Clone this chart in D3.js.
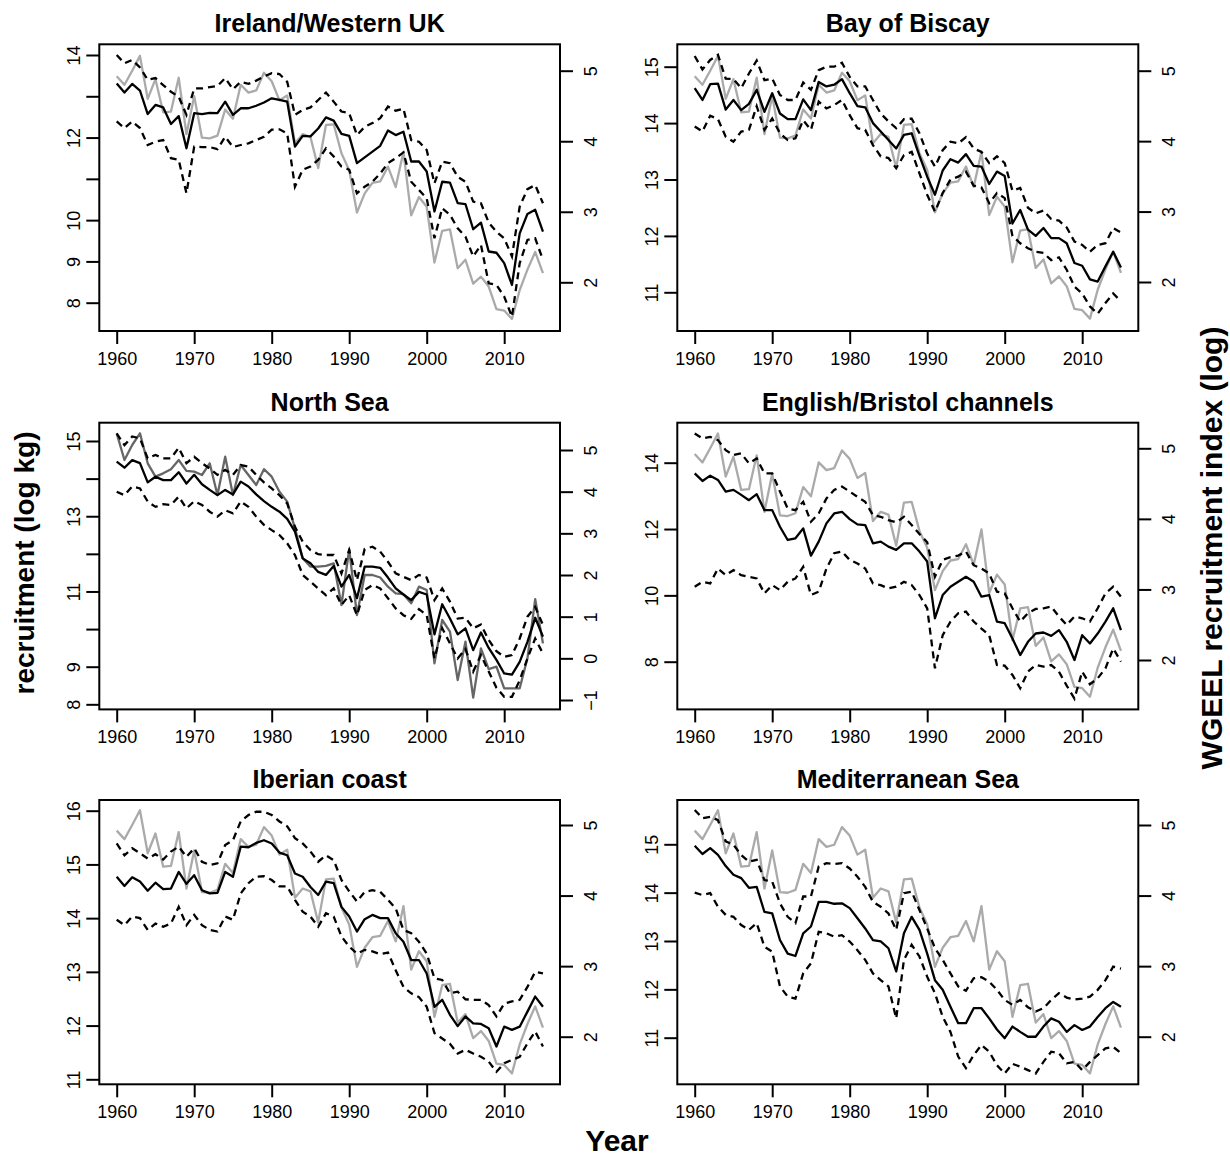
<!DOCTYPE html>
<html>
<head>
<meta charset="utf-8">
<script src="https://cdn.jsdelivr.net/npm/d3@7"></script>
<style>
  body { margin: 0; background: #fff; }
  svg text { font-family: "Liberation Sans", Arial, Helvetica, sans-serif; fill: #000; }
</style>
</head>
<body>
<script>
// years and x ticks
const years = d3.range(1960, 2016);
const xTicks = [1960, 1970, 1980, 1990, 2000, 2010];

// WGEEL "Elsewhere" recruitment index (log), the grey line in five panels
const wgeelIndex = [
  4.92, 4.80, 5.00, 5.21, 4.60, 4.88, 4.41, 4.42, 4.90, 4.10,
  4.64, 4.05, 4.04, 4.08, 4.45, 4.32, 4.80, 4.69, 4.72, 4.97,
  4.85, 4.58, 4.65, 3.97, 4.10, 4.06, 3.62, 4.23, 4.24, 3.83,
  3.59, 2.99, 3.26, 3.41, 3.43, 3.64, 3.35, 3.85, 2.95, 3.21,
  3.07, 2.28, 2.73, 2.75, 2.20, 2.32, 1.98, 2.08, 1.94, 1.62,
  1.60, 1.48, 1.89, 2.18, 2.43, 2.13
];
// WGEEL North Sea index (log)
const northSeaIndex = [
  5.40, 4.76, 5.12, 5.40, 4.68, 4.36, 4.44, 4.54, 4.76, 4.50,
  4.48, 4.40, 4.68, 3.92, 4.84, 3.92, 4.64, 4.40, 4.16, 4.54,
  4.36, 4.00, 3.76, 3.12, 2.40, 2.20, 2.20, 2.22, 2.28, 1.28,
  2.62, 1.04, 2.00, 2.00, 1.94, 1.72, 1.56, 1.54, 1.32, 1.72,
  1.64, -0.12, 0.92, 0.64, -0.52, 0.40, -0.94, 0.24, -0.26, -0.20,
  -0.72, -0.72, -0.72, 0.00, 1.42, 0.36
];

// recruitment estimates (log kg) with upper / lower bounds
const irelandEst = [
  13.31, 13.09, 13.30, 13.14, 12.57, 12.79, 12.73, 12.33, 12.52, 11.74,
  12.59, 12.57, 12.60, 12.59, 12.87, 12.55, 12.71, 12.71, 12.77, 12.85,
  12.95, 12.91, 12.87, 11.78, 12.04, 12.03, 12.22, 12.49, 12.41, 12.09,
  12.04, 11.38, 11.52, 11.66, 11.80, 12.17, 12.06, 12.14, 11.42, 11.42,
  11.18, 10.21, 10.93, 10.91, 10.41, 10.39, 9.78, 9.94, 9.24, 9.21,
  8.96, 8.43, 9.68, 10.15, 10.25, 9.72
];
const irelandUpper = [
  14.00, 13.80, 13.88, 13.70, 13.40, 13.44, 13.27, 13.11, 12.99, 12.55,
  13.19, 13.19, 13.22, 13.25, 13.44, 13.17, 13.35, 13.30, 13.38, 13.48,
  13.56, 13.54, 13.35, 12.55, 12.67, 12.73, 12.91, 13.09, 12.87, 12.63,
  12.59, 12.06, 12.26, 12.35, 12.47, 12.75, 12.65, 12.70, 11.94, 11.90,
  11.70, 10.89, 11.42, 11.38, 11.05, 10.93, 10.45, 10.41, 9.94, 9.72,
  9.56, 9.12, 10.33, 10.75, 10.85, 10.41
];
const irelandLower = [
  12.39, 12.23, 12.39, 12.23, 11.82, 11.90, 11.94, 11.50, 11.46, 10.65,
  11.78, 11.77, 11.77, 11.72, 12.02, 11.77, 11.82, 11.86, 11.94, 12.02,
  12.19, 12.20, 12.10, 10.81, 11.22, 11.30, 11.46, 11.74, 11.54, 11.30,
  11.22, 10.65, 10.81, 10.93, 11.13, 11.38, 11.50, 11.64, 10.93, 10.73,
  10.53, 9.56, 10.29, 10.13, 9.80, 9.60, 9.12, 9.40, 8.47, 8.43,
  8.15, 7.66, 8.96, 9.52, 9.56, 9.04
];

const biscayEst = [
  14.62, 14.41, 14.69, 14.70, 14.24, 14.41, 14.23, 14.34, 14.59, 14.20,
  14.53, 14.17, 14.07, 14.07, 14.42, 14.23, 14.73, 14.65, 14.68, 14.78,
  14.53, 14.30, 14.28, 14.00, 13.85, 13.70, 13.55, 13.79, 13.82, 13.42,
  13.05, 12.73, 13.16, 13.36, 13.30, 13.45, 13.24, 13.23, 12.92, 13.14,
  13.06, 12.22, 12.46, 12.11, 12.00, 12.14, 11.96, 11.96, 11.87, 11.52,
  11.47, 11.23, 11.19, 11.46, 11.72, 11.44
];
const biscayUpper = [
  15.19, 14.95, 15.12, 15.21, 14.79, 14.78, 14.62, 14.88, 15.11, 14.76,
  14.79, 14.50, 14.41, 14.41, 14.72, 14.59, 14.94, 15.00, 15.00, 15.07,
  14.82, 14.65, 14.65, 14.41, 14.17, 14.03, 13.91, 14.07, 14.08, 13.82,
  13.46, 13.23, 13.52, 13.67, 13.64, 13.75, 13.55, 13.49, 13.29, 13.41,
  13.29, 12.80, 12.85, 12.50, 12.40, 12.45, 12.30, 12.27, 12.15, 11.90,
  11.84, 11.72, 11.84, 11.87, 12.14, 12.06
];
const biscayLower = [
  13.94, 13.85, 14.13, 14.07, 13.76, 13.67, 13.85, 13.88, 14.30, 13.88,
  14.08, 13.82, 13.70, 13.73, 14.05, 13.88, 14.38, 14.26, 14.32, 14.41,
  14.14, 13.91, 13.88, 13.61, 13.41, 13.38, 13.20, 13.43, 13.49, 13.11,
  12.73, 12.43, 12.76, 13.00, 13.05, 13.14, 12.89, 12.86, 12.58, 12.76,
  12.67, 12.00, 11.87, 11.78, 11.72, 11.70, 11.57, 11.62, 11.40, 11.10,
  10.98, 10.75, 10.62, 10.81, 10.98, 10.84
];

const northSeaEst = [
  14.45, 14.29, 14.49, 14.41, 13.90, 14.05, 13.96, 13.96, 14.17, 13.87,
  14.10, 13.85, 13.70, 13.56, 13.70, 13.58, 13.92, 13.79, 13.58, 13.40,
  13.25, 13.12, 12.93, 12.59, 11.88, 11.75, 11.52, 11.44, 11.68, 11.13,
  11.44, 10.82, 11.66, 11.66, 11.63, 11.37, 11.08, 10.92, 10.77, 10.99,
  10.92, 9.86, 10.66, 10.28, 9.86, 10.02, 9.44, 9.91, 9.50, 9.18,
  8.82, 8.79, 9.13, 9.66, 10.30, 9.80
];
const northSeaUpper = [
  15.20, 14.89, 15.12, 15.07, 14.54, 14.63, 14.54, 14.54, 14.82, 14.41,
  14.58, 14.41, 14.27, 14.10, 14.23, 14.10, 14.36, 14.32, 14.10, 13.90,
  13.74, 13.56, 13.34, 12.72, 12.32, 12.10, 11.99, 11.97, 11.97, 11.48,
  12.10, 11.30, 12.13, 12.19, 12.06, 11.79, 11.48, 11.39, 11.30, 11.44,
  11.37, 10.77, 11.08, 10.73, 10.28, 10.30, 10.02, 10.12, 9.71, 9.41,
  9.26, 9.31, 9.75, 10.33, 10.59, 10.11
];
const northSeaLower = [
  13.65, 13.56, 13.79, 13.74, 13.39, 13.25, 13.32, 13.30, 13.52, 13.21,
  13.40, 13.30, 13.12, 12.99, 13.16, 13.08, 13.39, 13.25, 12.99, 12.77,
  12.63, 12.50, 12.28, 11.97, 11.44, 11.26, 11.08, 10.90, 11.08, 10.64,
  10.90, 10.37, 11.04, 11.17, 11.08, 10.82, 10.55, 10.37, 10.27, 10.53,
  10.37, 9.22, 10.02, 9.62, 9.22, 9.47, 8.87, 9.31, 8.87, 8.44,
  8.20, 8.20, 8.64, 9.22, 9.75, 9.35
];

const channelsEst = [
  13.68, 13.45, 13.61, 13.48, 13.13, 13.18, 13.03, 12.87, 13.05, 12.57,
  12.57, 12.07, 11.67, 11.72, 12.02, 11.20, 11.62, 12.17, 12.47, 12.52,
  12.30, 12.14, 12.12, 11.57, 11.62, 11.47, 11.37, 11.57, 11.57, 11.32,
  11.02, 9.31, 10.01, 10.26, 10.41, 10.56, 10.41, 9.96, 10.01, 9.21,
  9.16, 8.70, 8.20, 8.60, 8.85, 8.88, 8.78, 8.95, 8.60, 8.05,
  8.80, 8.55, 8.85, 9.21, 9.61, 8.95
];
const channelsUpper = [
  14.88, 14.73, 14.78, 14.68, 14.38, 14.23, 14.28, 13.98, 14.13, 13.68,
  13.68, 13.13, 12.62, 12.57, 12.82, 12.22, 12.47, 12.92, 13.18, 13.28,
  13.13, 12.97, 12.82, 12.42, 12.37, 12.27, 12.20, 12.37, 12.12, 11.85,
  11.60, 10.56, 11.07, 11.15, 11.20, 11.32, 10.91, 10.81, 10.66, 10.11,
  10.06, 9.61, 9.21, 9.46, 9.59, 9.61, 9.66, 9.36, 9.11, 9.36,
  9.31, 9.21, 9.61, 10.06, 10.26, 9.96
];
const channelsLower = [
  10.26, 10.41, 10.36, 10.81, 10.61, 10.76, 10.61, 10.56, 10.51, 10.06,
  10.31, 10.16, 10.41, 10.51, 10.86, 10.01, 10.11, 10.81, 11.27, 11.32,
  11.07, 10.96, 10.81, 10.36, 10.31, 10.21, 10.26, 10.41, 10.31, 10.01,
  9.61, 7.80, 8.80, 9.21, 9.46, 9.51, 9.21, 9.00, 8.80, 7.90,
  7.88, 7.60, 7.20, 7.70, 7.90, 7.85, 7.90, 7.70, 7.28, 6.89,
  7.70, 7.32, 7.50, 7.80, 8.40, 8.00
];

const iberianEst = [
  14.77, 14.60, 14.76, 14.68, 14.51, 14.66, 14.54, 14.55, 14.86, 14.64,
  14.80, 14.52, 14.46, 14.47, 14.86, 14.77, 15.33, 15.32, 15.40, 15.45,
  15.39, 15.22, 15.17, 14.83, 14.77, 14.58, 14.43, 14.68, 14.65, 14.21,
  14.03, 13.75, 13.98, 14.06, 14.00, 14.00, 13.72, 13.56, 13.22, 13.22,
  12.97, 12.35, 12.48, 12.20, 11.99, 12.17, 12.04, 12.03, 11.95, 11.61,
  11.98, 11.92, 11.98, 12.26, 12.54, 12.35
];
const iberianUpper = [
  15.39, 15.17, 15.30, 15.21, 15.11, 15.19, 15.09, 15.24, 15.33, 15.14,
  15.30, 15.05, 14.99, 15.02, 15.36, 15.45, 15.80, 15.92, 15.98, 15.98,
  15.92, 15.80, 15.71, 15.49, 15.39, 15.24, 15.05, 15.17, 15.08, 14.71,
  14.50, 14.31, 14.49, 14.52, 14.49, 14.34, 14.18, 13.78, 13.72, 13.56,
  13.34, 12.88, 12.85, 12.60, 12.63, 12.49, 12.48, 12.48, 12.38, 12.17,
  12.41, 12.45, 12.48, 12.72, 13.00, 12.97
];
const iberianLower = [
  13.97, 13.87, 14.03, 14.00, 13.78, 13.90, 13.84, 13.90, 14.21, 13.87,
  14.06, 13.87, 13.78, 13.75, 14.03, 13.97, 14.46, 14.65, 14.77, 14.78,
  14.71, 14.59, 14.59, 14.34, 14.12, 14.03, 13.84, 14.09, 14.03, 13.66,
  13.47, 13.34, 13.41, 13.38, 13.33, 13.36, 13.03, 12.72, 12.60, 12.53,
  12.35, 11.86, 11.76, 11.66, 11.48, 11.55, 11.48, 11.42, 11.33, 11.14,
  11.30, 11.36, 11.42, 11.67, 11.89, 11.61
];

const medEst = [
  14.97, 14.80, 14.92, 14.78, 14.55, 14.37, 14.30, 14.10, 14.12, 13.60,
  13.57, 13.02, 12.74, 12.69, 13.16, 13.30, 13.81, 13.81, 13.77, 13.78,
  13.68, 13.47, 13.26, 13.02, 12.99, 12.85, 12.37, 13.16, 13.50, 13.23,
  12.74, 12.19, 11.99, 11.64, 11.30, 11.30, 11.61, 11.61, 11.40, 11.17,
  10.99, 11.23, 11.12, 11.02, 11.02, 11.23, 11.40, 11.33, 11.12, 11.26,
  11.16, 11.23, 11.43, 11.61, 11.74, 11.64
];
const medUpper = [
  15.71, 15.54, 15.57, 15.50, 15.06, 14.99, 14.78, 14.64, 14.68, 14.26,
  14.23, 13.78, 13.50, 13.37, 13.92, 13.92, 14.54, 14.61, 14.59, 14.61,
  14.50, 14.33, 14.12, 13.81, 13.71, 13.57, 13.23, 13.99, 14.02, 13.64,
  13.26, 12.85, 12.61, 12.33, 12.06, 11.97, 12.23, 12.25, 12.16, 11.99,
  11.78, 11.68, 11.78, 11.63, 11.54, 11.61, 11.78, 11.92, 11.83, 11.79,
  11.81, 11.85, 11.99, 12.19, 12.47, 12.43
];
const medLower = [
  14.00, 13.95, 13.99, 13.71, 13.54, 13.50, 13.33, 13.23, 13.37, 12.88,
  12.78, 12.06, 11.85, 11.81, 12.33, 12.54, 13.19, 13.16, 13.09, 13.12,
  12.99, 12.81, 12.61, 12.33, 12.19, 12.06, 11.40, 12.61, 12.92, 12.68,
  12.26, 11.92, 11.43, 11.12, 10.61, 10.37, 10.64, 10.85, 10.71, 10.43,
  10.26, 10.46, 10.40, 10.33, 10.26, 10.50, 10.71, 10.68, 10.47, 10.50,
  10.33, 10.50, 10.64, 10.78, 10.81, 10.68
];

const panelTitles = ["Ireland/Western UK", "Bay of Biscay", "North Sea",
  "English/Bristol channels", "Iberian coast", "Mediterranean Sea"];

// page layout
const w = 1230;
const h = 1161;
const cols = [[99.3, 560], [677.3, 1138.3]];
const rows = [[44.3, 331], [422.7, 709.4], [800, 1084.3]];
const x1960 = [116.7, 694.7];
const decade = 77.5;
const grey = "#aaaaaa";

const panels = [
  { title: panelTitles[0], est: irelandEst, hi: irelandUpper, lo: irelandLower, idx: wgeelIndex, idxColor: grey,
    r: 0, c: 0, yl: [[14, 8], [55, 302.7]], yr: [[5, 2], [70.7, 282.3]],
    lTicks: d3.range(8, 15), lLabels: [8, 9, 10, 12, 14], rTicks: [2, 3, 4, 5] },
  { title: panelTitles[1], est: biscayEst, hi: biscayUpper, lo: biscayLower, idx: wgeelIndex, idxColor: grey,
    r: 0, c: 1, yl: [[15, 11], [66.7, 292.3]], yr: [[5, 2], [70.7, 282]],
    lTicks: d3.range(11, 16), lLabels: d3.range(11, 16), rTicks: [2, 3, 4, 5] },
  { title: panelTitles[2], est: northSeaEst, hi: northSeaUpper, lo: northSeaLower, idx: northSeaIndex, idxColor: "#666666",
    r: 1, c: 0, yl: [[15, 9], [441, 666.7]], yr: [[5, -1], [450, 700]],
    lTicks: d3.range(8, 16), lLabels: [8, 9, 11, 13, 15], rTicks: d3.range(-1, 6) },
  { title: panelTitles[3], est: channelsEst, hi: channelsUpper, lo: channelsLower, idx: wgeelIndex, idxColor: grey,
    r: 1, c: 1, yl: [[14, 8], [462.7, 661.7]], yr: [[5, 2], [448.3, 660]],
    lTicks: [8, 10, 12, 14], lLabels: [8, 10, 12, 14], rTicks: [2, 3, 4, 5] },
  { title: panelTitles[4], est: iberianEst, hi: iberianUpper, lo: iberianLower, idx: wgeelIndex, idxColor: grey,
    r: 2, c: 0, yl: [[16, 11], [810.7, 1079.3]], yr: [[5, 2], [825, 1036.7]],
    lTicks: d3.range(11, 17), lLabels: d3.range(11, 17), rTicks: [2, 3, 4, 5] },
  { title: panelTitles[5], est: medEst, hi: medUpper, lo: medLower, idx: wgeelIndex, idxColor: grey,
    r: 2, c: 1, yl: [[15, 11], [844.3, 1037.7]], yr: [[5, 2], [825, 1036.7]],
    lTicks: d3.range(11, 16), lLabels: d3.range(11, 16), rTicks: [2, 3, 4, 5] }
];

const svg = d3.select("body").append("svg").attr("width", w).attr("height", h);

function styleAxis(g) {
  g.select(".domain").remove();
  g.selectAll(".tick line").attr("stroke", "#000").attr("stroke-width", 2);
  g.selectAll("text").attr("font-size", 18).attr("fill", "#000");
  g.attr("font-family", null).attr("font-size", null);
}

panels.forEach(function (p) {
  const [bx0, bx1] = cols[p.c];
  const [by0, by1] = rows[p.r];

  const xScale = d3.scaleLinear().domain([1960, 2010]).range([x1960[p.c], x1960[p.c] + 5 * decade]);
  const yLeft = d3.scaleLinear().domain(p.yl[0]).range(p.yl[1]);
  const yRight = d3.scaleLinear().domain(p.yr[0]).range(p.yr[1]);

  const g = svg.append("g");

  // grey index line on the right axis
  const idxLine = d3.line().x((d, i) => xScale(years[i])).y(d => yRight(d));
  g.append("path").datum(p.idx).attr("d", idxLine)
    .attr("fill", "none").attr("stroke", p.idxColor).attr("stroke-width", 2.3)
    .attr("stroke-linejoin", "round");

  // estimate and bounds on the left axis
  const line = d3.line().x((d, i) => xScale(years[i])).y(d => yLeft(d));
  [p.hi, p.lo].forEach(function (s) {
    g.append("path").datum(s).attr("d", line)
      .attr("fill", "none").attr("stroke", "#000").attr("stroke-width", 2.3)
      .attr("stroke-dasharray", "7,5");
  });
  g.append("path").datum(p.est).attr("d", line)
    .attr("fill", "none").attr("stroke", "#000").attr("stroke-width", 2.3)
    .attr("stroke-linejoin", "round");

  // box
  g.append("rect").attr("x", bx0).attr("y", by0)
    .attr("width", bx1 - bx0).attr("height", by1 - by0)
    .attr("fill", "none").attr("stroke", "#000").attr("stroke-width", 2);

  // left axis
  const la = g.append("g").attr("transform", `translate(${bx0},0)`)
    .call(d3.axisLeft(yLeft).tickValues(p.lTicks).tickSize(13)
      .tickFormat(d => (p.lLabels.includes(d) ? d : "")));
  styleAxis(la);
  la.selectAll("text").attr("x", 0).attr("dy", null)
    .attr("text-anchor", "middle").attr("transform", "translate(-19.5,0) rotate(-90)");

  // right axis
  const ra = g.append("g").attr("transform", `translate(${bx1},0)`)
    .call(d3.axisRight(yRight).tickValues(p.rTicks).tickSize(13).tickFormat(d3.format("d")));
  styleAxis(ra);
  ra.selectAll("text").attr("x", 0).attr("dy", null)
    .attr("text-anchor", "middle").attr("transform", "translate(36.5,0) rotate(-90)");

  // bottom axis
  const ba = g.append("g").attr("transform", `translate(0,${by1})`)
    .call(d3.axisBottom(xScale).tickValues(xTicks).tickSize(13).tickFormat(d3.format("d")));
  styleAxis(ba);
  ba.selectAll("text").attr("y", 34).attr("dy", null);

  // title
  g.append("text").attr("x", (bx0 + bx1) / 2).attr("y", by0 - 12)
    .attr("text-anchor", "middle").attr("font-size", 25).attr("font-weight", "bold")
    .text(p.title);
});

// outer labels
svg.append("text").attr("transform", "translate(34,563) rotate(-90)")
  .attr("text-anchor", "middle").attr("font-size", 28).attr("font-weight", "bold")
  .text("recruitment (log kg)");
svg.append("text").attr("transform", "translate(1222,548) rotate(-90)")
  .attr("text-anchor", "middle").attr("font-size", 30).attr("font-weight", "bold")
  .text("WGEEL recruitment index (log)");
svg.append("text").attr("x", 617).attr("y", 1151)
  .attr("text-anchor", "middle").attr("font-size", 30).attr("font-weight", "bold")
  .text("Year");
</script>
</body>
</html>
